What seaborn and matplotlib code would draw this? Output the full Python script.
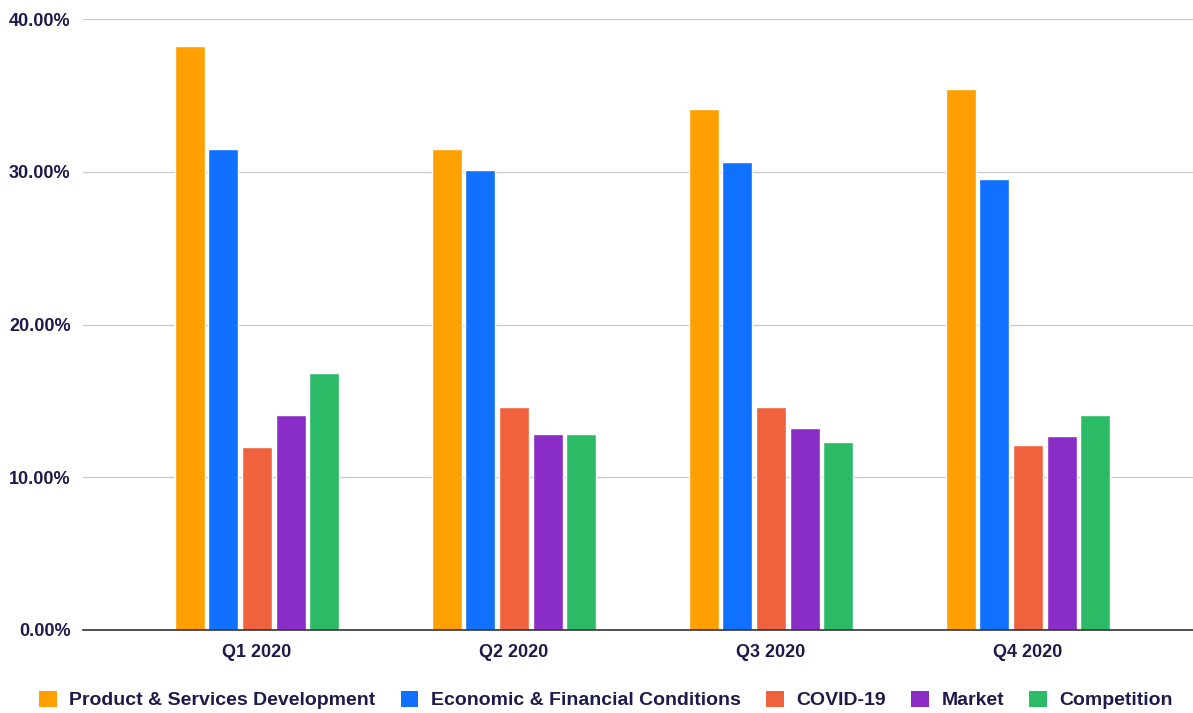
import matplotlib
matplotlib.use("Agg")
import matplotlib.pyplot as plt
import seaborn as sns
import pandas as pd
from matplotlib.ticker import FuncFormatter
from matplotlib.patches import Patch

quarters = ["Q1 2020", "Q2 2020", "Q3 2020", "Q4 2020"]
series = ["Product & Services Development", "Economic & Financial Conditions",
          "COVID-19", "Market", "Competition"]
product_services = [38.2, 31.5, 34.1, 35.4]
economic_financial = [31.5, 30.1, 30.65, 29.5]
covid19 = [12.0, 14.6, 14.6, 12.1]
market = [14.1, 12.8, 13.2, 12.7]
competition = [16.8, 12.8, 12.3, 14.05]
colors = ["#FFA000", "#1070FF", "#F0623E", "#8A2CC6", "#2BBB67"]
text_color = "#1E1B4B"

values = [product_services, economic_financial, covid19, market, competition]
rows = []
for s, vals in zip(series, values):
    for q, v in zip(quarters, vals):
        rows.append({"Quarter": q, "Series": s, "Value": v})
df = pd.DataFrame(rows)

sns.set_theme(style="white")
plt.rcParams["font.family"] = ["Liberation Sans", "DejaVu Sans"]

fig = plt.figure(figsize=(11.93, 7.13), dpi=100)
ax = fig.add_axes([83 / 1193, 83 / 713, 1 - 83 / 1193, (630 - 19) / 713])

sns.barplot(data=df, x="Quarter", y="Value", hue="Series", hue_order=series,
            order=quarters, palette=colors, width=0.655, gap=0.1,
            saturation=1, ax=ax, legend=False)

ax.set_ylim(0, 40)
ax.set_xlim(-0.677, 3.642)
ax.set_yticks([0, 10, 20, 30, 40])
ax.yaxis.set_major_formatter(FuncFormatter(lambda v, p: f"{v:.2f}%"))
ax.yaxis.grid(True, color="#CCCCCC", linewidth=1)
ax.set_axisbelow(True)
for sp in ["top", "right", "left"]:
    ax.spines[sp].set_visible(False)
ax.spines["bottom"].set_color("#333333")
ax.spines["bottom"].set_linewidth(1.2)
ax.tick_params(axis="y", length=0, pad=9, labelsize=13, labelcolor=text_color)
ax.tick_params(axis="x", length=0, pad=10, labelsize=13, labelcolor=text_color)
for lab in ax.get_xticklabels() + ax.get_yticklabels():
    lab.set_fontweight("bold")
ax.set_xlabel("")
ax.set_ylabel("")

handles = [Patch(facecolor=c, edgecolor="none") for c in colors]
leg = fig.legend(handles, series, loc="center", bbox_to_anchor=(606 / 1193, 13 / 713),
                 ncol=5, frameon=False, handlelength=0.9, handleheight=0.9,
                 handletextpad=0.65, columnspacing=1.3, borderpad=0, borderaxespad=0,
                 prop={"weight": "bold", "size": 14})
for t in leg.get_texts():
    t.set_color(text_color)

fig.savefig("out.png", dpi=100)
